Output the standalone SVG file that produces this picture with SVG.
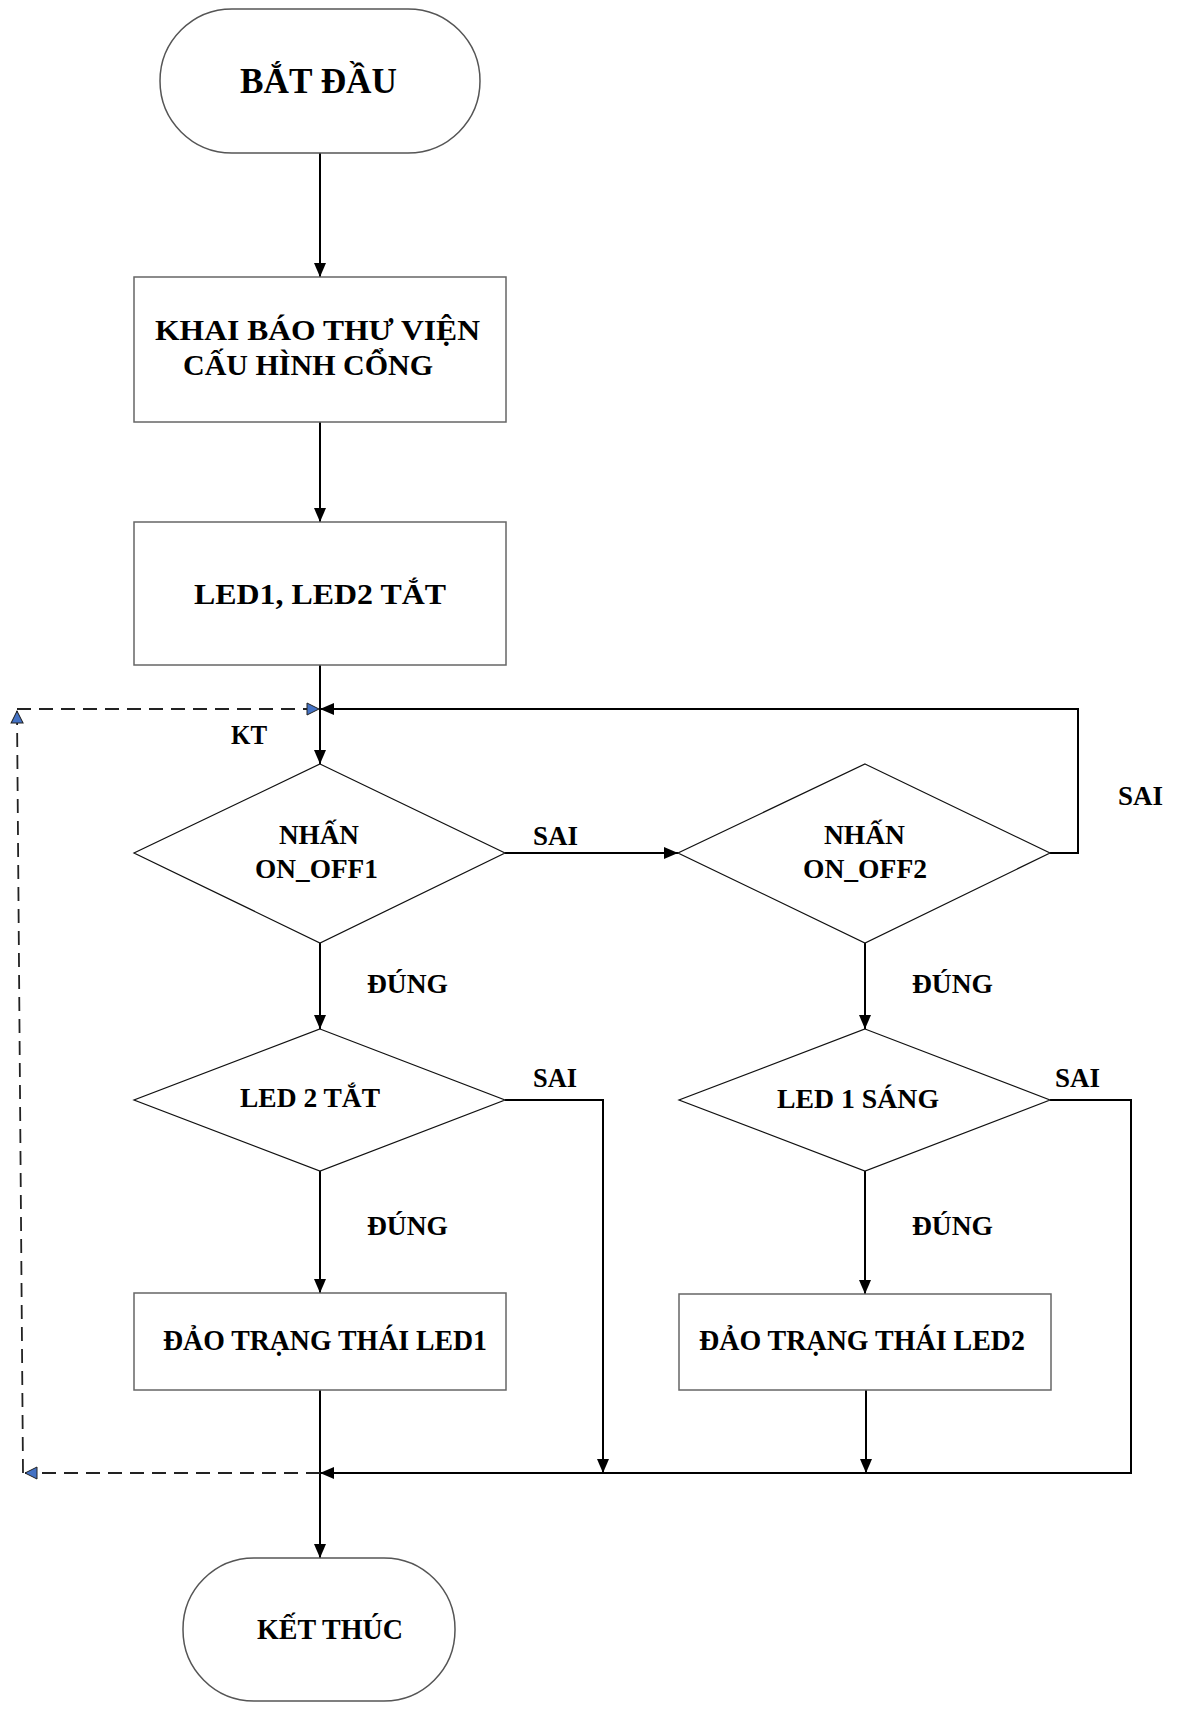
<svg xmlns="http://www.w3.org/2000/svg" width="1195" height="1712" viewBox="0 0 1195 1712">
<defs>
<marker id="arr" markerUnits="userSpaceOnUse" markerWidth="14" markerHeight="12" refX="14" refY="6" orient="auto">
<path d="M0,0 L14,6 L0,12 z" fill="#000"/>
</marker>
<marker id="barr" markerUnits="userSpaceOnUse" markerWidth="16" markerHeight="14" refX="13" refY="7" orient="auto">
<path d="M1,1 L13,7 L1,13 z" fill="#4472C4" stroke="#222" stroke-width="1"/>
</marker>
<style>
.t{font-family:"Liberation Serif","Times New Roman",serif;font-weight:bold;fill:#000;}
.box{fill:#fff;stroke:#666;stroke-width:1.5;}
.dia{fill:#fff;stroke:#111;stroke-width:1.2;}
.term{fill:#fff;stroke:#555;stroke-width:1.5;}
.c{fill:none;stroke:#000;stroke-width:2;}
.d{fill:none;stroke:#222;stroke-width:1.8;stroke-dasharray:14 8;}
</style>
</defs>
<rect width="1195" height="1712" fill="#fff"/>

<g id="connectors">
<line class="c" x1="320" y1="153" x2="320" y2="277" marker-end="url(#arr)"/>
<line class="c" x1="320" y1="422" x2="320" y2="522" marker-end="url(#arr)"/>
<line class="c" x1="320" y1="665" x2="320" y2="764" marker-end="url(#arr)"/>
<line class="c" x1="505" y1="853" x2="678" y2="853" marker-end="url(#arr)"/>
<polyline class="c" points="1050,853 1078,853 1078,709 320,709" marker-end="url(#arr)"/>
<line class="c" x1="320" y1="943" x2="320" y2="1029" marker-end="url(#arr)"/>
<line class="c" x1="865" y1="943" x2="865" y2="1029" marker-end="url(#arr)"/>
<line class="c" x1="320" y1="1171" x2="320" y2="1293" marker-end="url(#arr)"/>
<line class="c" x1="865" y1="1171" x2="865" y2="1294" marker-end="url(#arr)"/>
<polyline class="c" points="505,1100 603,1100 603,1473" marker-end="url(#arr)"/>
<line class="c" x1="866" y1="1390" x2="866" y2="1473" marker-end="url(#arr)"/>
<polyline class="c" points="1050,1100 1131,1100 1131,1473 320,1473" marker-end="url(#arr)"/>
<line class="c" x1="320" y1="1390" x2="320" y2="1558" marker-end="url(#arr)"/>
<line class="d" x1="320" y1="1473" x2="25" y2="1473" marker-end="url(#barr)"/>
<line class="d" x1="23" y1="1473" x2="17" y2="711" marker-end="url(#barr)"/>
<line class="d" x1="17" y1="709" x2="319" y2="709" marker-end="url(#barr)"/>
</g>

<g id="start">
<rect class="term" x="160" y="9" width="320" height="144" rx="72" ry="72"/>
<text class="t" x="240" y="93" font-size="36" textLength="157" lengthAdjust="spacingAndGlyphs">BẮT ĐẦU</text>
</g>

<g id="init">
<rect class="box" x="134" y="277" width="372" height="145"/>
<text class="t" x="155" y="340" font-size="29" textLength="325" lengthAdjust="spacingAndGlyphs">KHAI BÁO THƯ VIỆN</text>
<text class="t" x="183" y="375" font-size="29" textLength="250" lengthAdjust="spacingAndGlyphs">CẤU HÌNH CỔNG</text>
</g>

<g id="ledsoff">
<rect class="box" x="134" y="522" width="372" height="143"/>
<text class="t" x="194" y="604" font-size="29" textLength="252" lengthAdjust="spacingAndGlyphs">LED1, LED2 TẮT</text>
</g>

<g id="kt-label">
<text class="t" x="231" y="744" font-size="27" textLength="36" lengthAdjust="spacingAndGlyphs">KT</text>
</g>

<g id="btn1">
<polygon class="dia" points="320,764 505,853 320,943 134,853"/>
<text class="t" x="279" y="844" font-size="28" textLength="80" lengthAdjust="spacingAndGlyphs">NHẤN</text>
<text class="t" x="255" y="878" font-size="28" textLength="123" lengthAdjust="spacingAndGlyphs">ON_OFF1</text>
</g>

<g id="btn2">
<polygon class="dia" points="865,764 1050,853 865,943 678,853"/>
<text class="t" x="824" y="844" font-size="28" textLength="81" lengthAdjust="spacingAndGlyphs">NHẤN</text>
<text class="t" x="803" y="878" font-size="28" textLength="124" lengthAdjust="spacingAndGlyphs">ON_OFF2</text>
</g>

<g id="led2off">
<polygon class="dia" points="320,1029 505,1100 320,1171 134,1100"/>
<text class="t" x="240" y="1107" font-size="28" textLength="140" lengthAdjust="spacingAndGlyphs">LED 2 TẮT</text>
</g>

<g id="led1on">
<polygon class="dia" points="865,1029 1050,1100 865,1171 679,1100"/>
<text class="t" x="777" y="1108" font-size="28" textLength="162" lengthAdjust="spacingAndGlyphs">LED 1 SÁNG</text>
</g>

<g id="toggle1">
<rect class="box" x="134" y="1293" width="372" height="97"/>
<text class="t" x="163" y="1350" font-size="29" textLength="324" lengthAdjust="spacingAndGlyphs">ĐẢO TRẠNG THÁI LED1</text>
</g>

<g id="toggle2">
<rect class="box" x="679" y="1294" width="372" height="96"/>
<text class="t" x="699" y="1350" font-size="29" textLength="326" lengthAdjust="spacingAndGlyphs">ĐẢO TRẠNG THÁI LED2</text>
</g>

<g id="end">
<rect class="term" x="183" y="1558" width="272" height="143" rx="71" ry="71"/>
<text class="t" x="257" y="1639" font-size="29" textLength="146" lengthAdjust="spacingAndGlyphs">KẾT THÚC</text>
</g>

<g id="labels">
<text class="t" x="533" y="845" font-size="28" textLength="45" lengthAdjust="spacingAndGlyphs">SAI</text>
<text class="t" x="1118" y="805" font-size="28" textLength="45" lengthAdjust="spacingAndGlyphs">SAI</text>
<text class="t" x="533" y="1087" font-size="28" textLength="44" lengthAdjust="spacingAndGlyphs">SAI</text>
<text class="t" x="1055" y="1087" font-size="28" textLength="45" lengthAdjust="spacingAndGlyphs">SAI</text>
<text class="t" x="367" y="993" font-size="28" textLength="81" lengthAdjust="spacingAndGlyphs">ĐÚNG</text>
<text class="t" x="912" y="993" font-size="28" textLength="81" lengthAdjust="spacingAndGlyphs">ĐÚNG</text>
<text class="t" x="367" y="1235" font-size="28" textLength="81" lengthAdjust="spacingAndGlyphs">ĐÚNG</text>
<text class="t" x="912" y="1235" font-size="28" textLength="81" lengthAdjust="spacingAndGlyphs">ĐÚNG</text>
</g>
</svg>
